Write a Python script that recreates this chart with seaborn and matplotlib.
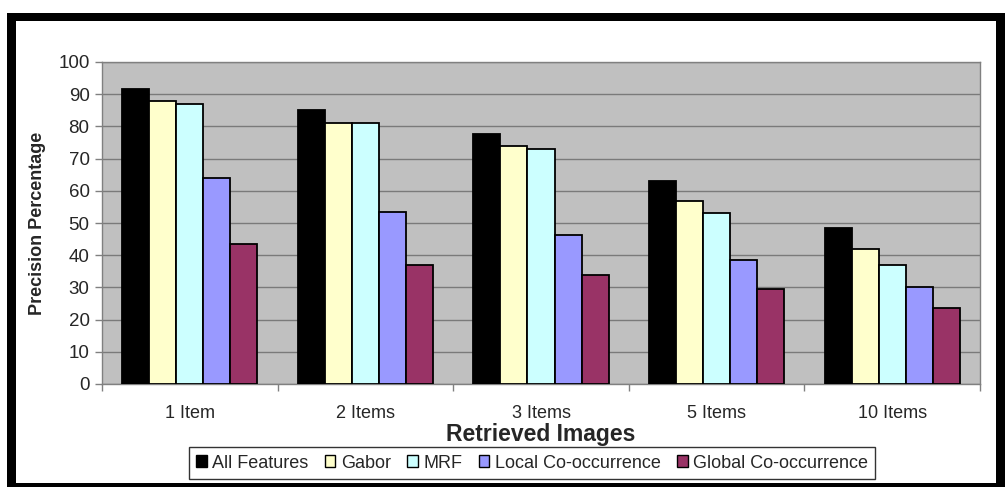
import matplotlib
matplotlib.use("Agg")
import matplotlib.pyplot as plt
from matplotlib.patches import Rectangle
from matplotlib.ticker import FixedLocator, MultipleLocator
import seaborn as sns
import pandas as pd

# Precision (%) per number of retrieved images, for each feature set
categories = ["1 Item", "2 Items", "3 Items", "5 Items", "10 Items"]
all_features = [91.5, 85.0, 77.6, 63.0, 48.3]
gabor = [88.0, 81.0, 74.0, 56.8, 41.8]
mrf = [87.0, 81.0, 73.0, 53.0, 37.0]
local_cooc = [64.0, 53.5, 46.3, 38.6, 30.0]
global_cooc = [43.5, 37.0, 33.9, 29.5, 23.7]
series_names = ["All Features", "Gabor", "MRF", "Local Co-occurrence", "Global Co-occurrence"]
series_colors = ["#000000", "#FFFFCC", "#CCFFFF", "#9999FF", "#993366"]

series_values = [all_features, gabor, mrf, local_cooc, global_cooc]
rows = []
for name, vals in zip(series_names, series_values):
    for cat, v in zip(categories, vals):
        rows.append({"Retrieved": cat, "Feature": name, "Precision": v})
df = pd.DataFrame(rows)

sns.set_theme(style="white")
plt.rcParams["font.family"] = ["Liberation Sans", "DejaVu Sans"]

W, H = 1005, 487
fig = plt.figure(figsize=(W / 100, H / 100), dpi=100)
ax = fig.add_axes([102 / W, 1 - 384 / H, (980 - 102) / W, (384 - 62) / H])
ax.set_facecolor("#C0C0C0")

sns.barplot(
    data=df, x="Retrieved", y="Precision", hue="Feature",
    order=categories, hue_order=series_names,
    palette=dict(zip(series_names, series_colors)),
    width=0.77, edgecolor="black", linewidth=1.3, saturation=1,
    legend=False, ax=ax, zorder=3,
)

ax.set_xlim(-0.5, len(categories) - 0.5)
ax.set_ylim(0, 100)
ax.yaxis.set_major_locator(MultipleLocator(10))
ax.grid(axis="y", color="#7a7a7a", linewidth=1.0, zorder=1)
ax.set_axisbelow(True)
for s in ax.spines.values():
    s.set_color("#808080")
    s.set_linewidth(1.0)

ax.tick_params(axis="y", which="major", direction="out", length=5, width=1,
               color="#808080", labelsize=13.5, pad=4, left=True)
ax.tick_params(axis="x", which="major", length=0, labelsize=13, pad=15)
ax.xaxis.set_minor_locator(FixedLocator([i - 0.5 for i in range(len(categories) + 1)]))
ax.tick_params(axis="x", which="minor", direction="out", length=5, width=1,
               color="#808080", bottom=True)

ax.set_xlabel("Retrieved Images", fontsize=16.5, fontweight="bold", labelpad=1)
ax.set_ylabel("Precision Percentage", fontsize=13, fontweight="bold", labelpad=9)

handles = [Rectangle((0, 0), 1, 1, facecolor=c, edgecolor="black", linewidth=1.0)
           for c in series_colors]
leg = fig.legend(handles, series_names, loc="center", ncol=5,
                 bbox_to_anchor=(532 / W, 1 - 463 / H), fontsize=13,
                 frameon=True, fancybox=False, edgecolor="black",
                 handlelength=0.6, handleheight=0.6, handletextpad=0.3,
                 columnspacing=0.9, borderpad=0.4, borderaxespad=0)
leg.get_frame().set_linewidth(1.0)

# thick black page frame
frame_kw = dict(transform=fig.transFigure, facecolor="black", edgecolor="none", zorder=10)
fig.add_artist(Rectangle((7 / W, 0), 9 / W, 1 - 13 / H, **frame_kw))
fig.add_artist(Rectangle((7 / W, 1 - 21 / H), 1 - 7 / W, 8 / H, **frame_kw))
fig.add_artist(Rectangle((996 / W, 0), 9 / W, 1 - 13 / H, **frame_kw))
fig.add_artist(Rectangle((7 / W, 0), 1 - 7 / W, 4 / H, **frame_kw))

fig.savefig("out.png", dpi=100, facecolor="white")
